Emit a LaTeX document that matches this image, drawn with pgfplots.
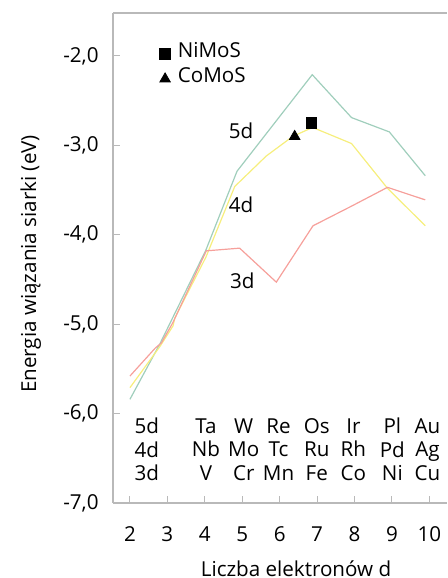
\documentclass[border=0pt]{standalone}
\usepackage{fontspec}
\setmainfont{Open Sans}
\usepackage{pgfplots}
\pgfplotsset{compat=1.18}
\definecolor{c5d}{RGB}{160,206,188}
\definecolor{c4d}{RGB}{246,238,125}
\definecolor{c3d}{RGB}{246,160,155}
\definecolor{axgray}{RGB}{185,185,185}
\newcommand{\fs}{\fontsize{10.3pt}{11.75pt}\selectfont}
\tikzset{el/.style={align=center, font=\fs, inner sep=0pt}}
\begin{document}
\begin{tikzpicture}
\useasboundingbox (0,0) rectangle (223.5pt,289pt);
\fs
\begin{axis}[
  at={(56.5pt,37.5pt)}, anchor=south west,
  scale only axis, width=167pt, height=245pt,
  xmin=1.547, xmax=10.47, ymin=-7, ymax=-1.52,
  axis x line*=box, axis y line*=left,
  axis line style={axgray, line width=0.6pt},
  tick style={axgray, line width=0.5pt},
  tick align=inside,
  major tick length=3.5pt,
  xtick={2,3,4,5,6,7,8,9,10},
  xtick pos=bottom,
  ytick={-7,-6,-5,-4,-3,-2},
  yticklabels={{-7,0},{-6,0},{-5,0},{-4,0},{-3,0},{-2,0}},
  xticklabel style={font=\fs, yshift=-8.3pt},
  yticklabel style={font=\fs, xshift=-3.6pt},
  /pgf/number format/assume math mode=true,
  clip=false,
  legend style={at={(axis description cs:0.138,0.891)}, anchor=west, draw=none, fill=none,
    inner sep=0pt, outer sep=0pt, row sep=4.5pt, column sep=0pt,
    nodes={inner ysep=0pt, inner xsep=3pt, text height=6pt, text depth=2pt, font=\fs}},
  legend cell align=left,
  legend image code/.code={\draw[#1] plot coordinates {(2.8pt,0pt)}; \path (0pt,0pt) (6pt,0pt);},
]
% 5d
\addplot[c5d, line width=0.6pt, forget plot] coordinates {
 (2,-5.84) (2.8,-5.22) (4.03,-4.17) (4.86,-3.29) (6.87,-2.21) (7.92,-2.69) (8.93,-2.85) (9.89,-3.34)};
% 4d
\addplot[c4d, line width=0.6pt, forget plot] coordinates {
 (2,-5.71) (2.8,-5.25) (3.15,-5.02) (3.2,-4.93) (4.03,-4.25) (4.8,-3.46) (5.64,-3.12) (6.35,-2.90) (6.88,-2.80) (7.92,-2.98) (8.88,-3.48) (9.89,-3.90)};
% 3d
\addplot[c3d, line width=0.6pt, forget plot] coordinates {
 (2,-5.58) (2.67,-5.27) (2.84,-5.21) (3.15,-4.98) (4.04,-4.18) (4.93,-4.15) (5.91,-4.53) (6.89,-3.90) (7.92,-3.68) (8.88,-3.47) (9.89,-3.61)};
\addplot[only marks, mark=square*, mark size=2.6pt, black] coordinates {(6.84,-2.75)};
\addlegendentry{NiMoS}
\addplot[only marks, mark=triangle*, mark size=3pt, black] coordinates {(6.4,-2.90)};
\addlegendentry{CoMoS}
\node at (axis cs:4.97,-2.84) {5d};
\node at (axis cs:4.97,-3.67) {4d};
\node at (axis cs:5.0,-4.52) {3d};
\node[el] at (axis cs:2.45,-6.40) {5d\\4d\\3d};
\node[el] at (axis cs:4.03,-6.40) {Ta\\Nb\\V};
\node[el] at (axis cs:5.04,-6.40) {W\\Mo\\Cr};
\node[el] at (axis cs:5.97,-6.40) {Re\\Tc\\Mn};
\node[el] at (axis cs:6.99,-6.40) {Os\\Ru\\Fe};
\node[el] at (axis cs:7.97,-6.40) {Ir\\Rh\\Co};
\node[el] at (axis cs:9.01,-6.40) {Pl\\Pd\\Ni};
\node[el] at (axis cs:9.95,-6.40) {Au\\Ag\\Cu};
\end{axis}
\node[anchor=base] at (148pt,1pt) {Liczba elektronów d};
\node[anchor=base, rotate=90] at (18pt,157pt) {Energia wiązania siarki (eV)};
\end{tikzpicture}
\end{document}
